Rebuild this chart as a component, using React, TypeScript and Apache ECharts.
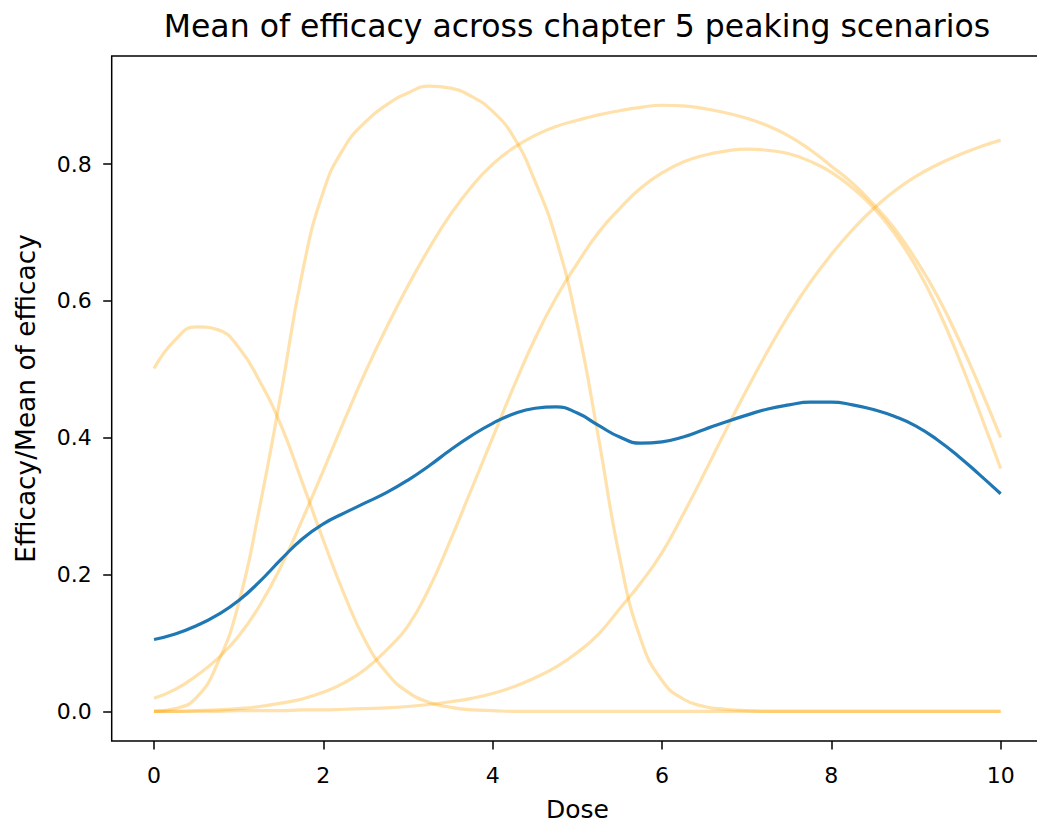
import React, { useEffect, useRef } from "react";
import * as echarts from "echarts";

const doses = [
  0, 0.25, 0.5, 0.75, 1, 1.25, 1.5, 1.75, 2, 2.25, 2.5, 2.75, 3, 3.25, 3.5, 3.75, 4, 4.25, 4.5, 4.75, 5,
  5.25, 5.5, 5.75, 6, 6.25, 6.5, 6.75, 7, 7.25, 7.5, 7.75, 8, 8.25, 8.5, 8.75, 9, 9.25, 9.5, 9.75, 10,
];

const scenario1 = [
  0.501, 0.543, 0.562, 0.558, 0.532, 0.482, 0.418, 0.335, 0.25, 0.17, 0.102, 0.056, 0.028, 0.013, 0.006, 0.002, 0.001,
  0, 0, 0, 0, 0, 0, 0, 0, 0, 0, 0, 0, 0, 0, 0, 0, 0, 0, 0, 0, 0, 0, 0, 0,
];

const scenario2 = [
  0, 0.004, 0.02, 0.07, 0.158, 0.3, 0.465, 0.64, 0.76, 0.825, 0.862, 0.887, 0.904, 0.914, 0.911, 0.899, 0.877,
  0.839, 0.775, 0.69, 0.565, 0.4, 0.225, 0.105, 0.045, 0.018, 0.007, 0.003, 0.001,
  0, 0, 0, 0, 0, 0, 0, 0, 0, 0, 0, 0,
];

const scenario3 = [
  0.019, 0.032, 0.052, 0.077, 0.11, 0.155, 0.212, 0.28, 0.352, 0.426, 0.497, 0.562, 0.622, 0.677, 0.726, 0.767, 0.8,
  0.824, 0.842, 0.855, 0.864, 0.872, 0.878, 0.883, 0.886, 0.885, 0.881, 0.875, 0.867, 0.856, 0.841, 0.821, 0.797,
  0.772, 0.741, 0.705, 0.66, 0.608, 0.545, 0.475, 0.4,
];

const scenario4 = [
  0, 0, 0.001, 0.002, 0.004, 0.007, 0.012, 0.018, 0.028, 0.042, 0.062, 0.09, 0.125, 0.18, 0.25, 0.325, 0.4,
  0.475, 0.545, 0.605, 0.655, 0.7, 0.735, 0.765, 0.787, 0.803, 0.813, 0.819, 0.822, 0.82, 0.815, 0.804, 0.788,
  0.765, 0.736, 0.698, 0.65, 0.59, 0.518, 0.438, 0.355,
];

const scenario5 = [
  0, 0, 0, 0, 0.001, 0.001, 0.001, 0.002, 0.002, 0.003, 0.004, 0.005, 0.007, 0.01, 0.014, 0.019, 0.026,
  0.036, 0.049, 0.065, 0.086, 0.113, 0.15, 0.188, 0.232, 0.288, 0.348, 0.41, 0.47, 0.527, 0.58, 0.627, 0.668,
  0.704, 0.735, 0.761, 0.782, 0.799, 0.813, 0.825, 0.835,
];

const meanEfficacy = [
  0.105, 0.113, 0.125, 0.141, 0.162, 0.19, 0.222, 0.252, 0.274, 0.29, 0.305, 0.32, 0.338, 0.359, 0.382, 0.403,
  0.421, 0.435, 0.443, 0.445, 0.436, 0.418, 0.401, 0.392, 0.394, 0.401, 0.412, 0.423, 0.433, 0.442, 0.448, 0.452,
  0.452, 0.448, 0.441, 0.431, 0.417, 0.397, 0.373, 0.346, 0.318,
];

const scenarios = [scenario1, scenario2, scenario3, scenario4, scenario5];
const xTicks = [0, 2, 4, 6, 8, 10];
const yTicks = [0, 0.2, 0.4, 0.6, 0.8];

const titleText = "Mean of efficacy across chapter 5 peaking scenarios";
const xName = "Dose";
const yName = "Efficacy/Mean of efficacy";

const toPairs = (ys: number[]) => doses.map((d, i) => [d, ys[i]]);

export default function App() {
  const ref = useRef<HTMLDivElement>(null);
  useEffect(() => {
    if (!ref.current) return;
    document.body.style.margin = "0";
    document.body.style.overflow = "hidden";
    document.documentElement.style.overflow = "hidden";
    const chart = echarts.init(ref.current, null, { renderer: "svg", width: 1045, height: 827 });
    const font = "DejaVu Sans";
    const orange = "rgba(255,165,0,0.33)";
    const blue = "#1f77b4";
    chart.setOption({
      animation: false,
      backgroundColor: "#ffffff",
      textStyle: { fontFamily: font },
      graphic: [
        {
          type: "text",
          x: 577,
          y: 26,
          style: {
            text: titleText,
            fill: "#000",
            fontSize: 31.5,
            fontFamily: font,
            textAlign: "center",
            textVerticalAlign: "middle",
            align: "center",
            verticalAlign: "middle",
          },
        },
      ],
      grid: {
        left: 111.7,
        top: 56,
        width: 931.3,
        height: 692.3,
        show: true,
        borderColor: "#000",
        borderWidth: 1.5,
        backgroundColor: "transparent",
      },
      xAxis: {
        type: "value",
        min: -0.5,
        max: 10.5,
        name: xName,
        nameLocation: "middle",
        nameGap: 56,
        nameTextStyle: { fontSize: 25, color: "#000", fontFamily: font },
        axisLine: { show: false, onZero: false },
        splitLine: { show: false },
        axisTick: { show: true, length: 8.5, lineStyle: { color: "#000", width: 1.5 }, customValues: xTicks },
        axisLabel: {
          customValues: xTicks,
          fontSize: 22,
          color: "#000",
          margin: 23,
          fontFamily: font,
          formatter: (v: number) => String(v),
        },
      },
      yAxis: {
        type: "value",
        min: -0.0434,
        max: 0.958,
        name: yName,
        nameLocation: "middle",
        nameGap: 73,
        nameRotate: 90,
        nameTextStyle: { fontSize: 26.4, color: "#000", fontFamily: font },
        axisLine: { show: false, onZero: false },
        splitLine: { show: false },
        axisTick: { show: true, length: 8.5, lineStyle: { color: "#000", width: 1.5 }, customValues: yTicks },
        axisLabel: {
          customValues: yTicks,
          fontSize: 22,
          color: "#000",
          margin: 20,
          fontFamily: font,
          formatter: (v: number) => v.toFixed(1),
        },
      },
      series: [
        ...scenarios.map((s, i) => ({
          type: "line",
          name: "Scenario " + (i + 1),
          data: toPairs(s),
          showSymbol: false,
          smooth: 0.5,
          lineStyle: { color: orange, width: 3.2 },
          itemStyle: { color: orange },
          z: 2,
        })),
        {
          type: "line",
          name: "Mean",
          data: toPairs(meanEfficacy),
          showSymbol: false,
          smooth: 0.5,
          lineStyle: { color: blue, width: 3.2 },
          itemStyle: { color: blue },
          z: 3,
        },
      ],
    });
    return () => chart.dispose();
  }, []);
  return (
    <div
      ref={ref}
      style={{ position: "fixed", left: 0, top: 0, width: 1045, height: 827, background: "#fff" }}
    />
  );
}
